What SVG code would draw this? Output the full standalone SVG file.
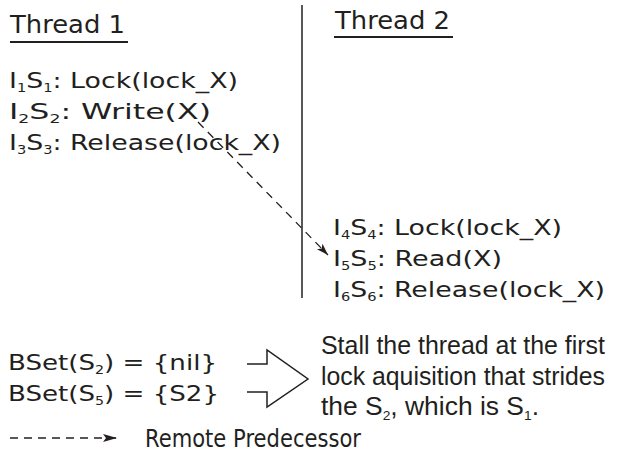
<svg xmlns="http://www.w3.org/2000/svg" width="620" height="464" viewBox="0 0 620 464">
<style>
.v{font-family:"DejaVu Sans",Verdana,sans-serif;font-size:22px;fill:#231f20}
.t{font-size:24px}
.s{font-size:12px}
.lg{font-size:24px}
.a{font-family:"Liberation Sans",Arial,sans-serif;font-size:25px;fill:#231f20}
.ln{stroke:#231f20;stroke-width:1.5;fill:none}
.dash{stroke:#231f20;stroke-width:1.3;fill:none;stroke-dasharray:8 6}
</style>
<defs>
<marker id="ah" viewBox="0 0 12 8" refX="12" refY="4" markerWidth="12" markerHeight="8" markerUnits="userSpaceOnUse" orient="auto">
<path d="M0,0 L12,4 L0,8 L3,4 Z" fill="#231f20"/>
</marker>
<marker id="ah2" viewBox="0 0 14 8" refX="14" refY="4" markerWidth="14" markerHeight="8" markerUnits="userSpaceOnUse" orient="auto">
<path d="M0,0 L14,4 L0,8 L3,4 Z" fill="#231f20"/>
</marker>
</defs>
<rect width="620" height="464" fill="#fff"/>
<line class="ln" x1="302" y1="5" x2="302" y2="298"/>
<g id="thread1">
<text class="v t" x="10" y="33" textLength="115" lengthAdjust="spacingAndGlyphs">Thread 1</text>
<line x1="10" y1="42" x2="128" y2="42" stroke="#231f20" stroke-width="2"/>
<text class="v" x="9" y="88" textLength="229" lengthAdjust="spacingAndGlyphs">I<tspan class="s" dy="4">1</tspan><tspan dy="-4">S</tspan><tspan class="s" dy="4">1</tspan><tspan dy="-4">: Lock(lock_X)</tspan></text>
<text class="v" x="9" y="119" textLength="202" lengthAdjust="spacingAndGlyphs">I<tspan class="s" dy="4">2</tspan><tspan dy="-4">S</tspan><tspan class="s" dy="4">2</tspan><tspan dy="-4">: Write(X)</tspan></text>
<text class="v" x="9" y="150" textLength="272" lengthAdjust="spacingAndGlyphs">I<tspan class="s" dy="4">3</tspan><tspan dy="-4">S</tspan><tspan class="s" dy="4">3</tspan><tspan dy="-4">: Release(lock_X)</tspan></text>
</g>
<g id="thread2">
<text class="v t" x="335" y="29" textLength="115" lengthAdjust="spacingAndGlyphs">Thread 2</text>
<line x1="334" y1="37" x2="453" y2="37" stroke="#231f20" stroke-width="2"/>
<text class="v" x="333" y="235" textLength="229" lengthAdjust="spacingAndGlyphs">I<tspan class="s" dy="4">4</tspan><tspan dy="-4">S</tspan><tspan class="s" dy="4">4</tspan><tspan dy="-4">: Lock(lock_X)</tspan></text>
<text class="v" x="333" y="266" textLength="169" lengthAdjust="spacingAndGlyphs">I<tspan class="s" dy="4">5</tspan><tspan dy="-4">S</tspan><tspan class="s" dy="4">5</tspan><tspan dy="-4">: Read(X)</tspan></text>
<text class="v" x="333" y="297" textLength="272" lengthAdjust="spacingAndGlyphs">I<tspan class="s" dy="4">6</tspan><tspan dy="-4">S</tspan><tspan class="s" dy="4">6</tspan><tspan dy="-4">: Release(lock_X)</tspan></text>
</g>
<g id="connectors">
<line class="dash" x1="198" y1="122" x2="328" y2="255" marker-end="url(#ah)"/>
</g>
<g id="bset">
<text class="v" x="8" y="370" textLength="209" lengthAdjust="spacingAndGlyphs">BSet(S<tspan class="s" dy="4">2</tspan><tspan dy="-4">) = {nil}</tspan></text>
<text class="v" x="8" y="401" textLength="211" lengthAdjust="spacingAndGlyphs">BSet(S<tspan class="s" dy="4">5</tspan><tspan dy="-4">) = {S2}</tspan></text>
</g>
<g id="bigarrow">
<path class="ln" stroke-width="1" d="M247,364 L267,364 L267,350 L308,379 L267,407 L267,392 L247,392"/>
</g>
<g id="note">
<text class="a" x="321" y="354" textLength="284" lengthAdjust="spacingAndGlyphs">Stall the thread at the first</text>
<text class="a" x="321" y="385" textLength="284" lengthAdjust="spacingAndGlyphs">lock aquisition that strides</text>
<text class="a" x="321" y="415" textLength="218" lengthAdjust="spacingAndGlyphs">the S<tspan font-size="13" dy="5">2</tspan><tspan dy="-5">, which is S</tspan><tspan font-size="13" dy="5">1</tspan><tspan dy="-5">.</tspan></text>
</g>
<g id="legend">
<line class="dash" x1="10" y1="438" x2="117" y2="438" stroke-width="1.6" stroke-dasharray="7.5 8.5" marker-end="url(#ah2)"/>
<text class="v lg" x="145" y="447" textLength="216" lengthAdjust="spacingAndGlyphs">Remote Predecessor</text>
</g>
</svg>
